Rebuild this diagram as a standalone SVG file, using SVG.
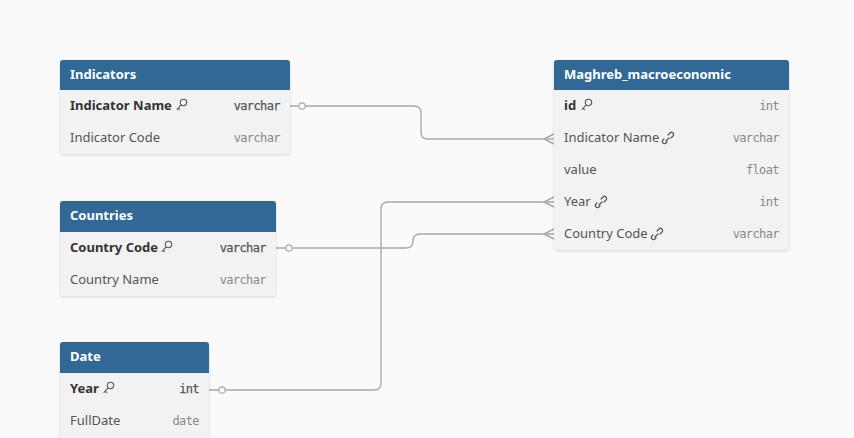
<svg xmlns="http://www.w3.org/2000/svg" width="854" height="438" viewBox="0 0 854 438">
<defs>
<filter id="sh" x="-10%" y="-10%" width="120%" height="130%">
<feDropShadow dx="0" dy="1" stdDeviation="1.5" flood-color="#000" flood-opacity="0.15"/>
</filter>
<g id="key"><circle cx="6.5" cy="-3.5" r="3.2" fill="none" stroke="#555" stroke-width="1.1"/><path d="M4.2,-1.2 L0,3.5 M1.2,2.2 L2.6,3.6" fill="none" stroke="#555" stroke-width="1.1" stroke-linecap="round"/></g>
<g id="link"><path d="M2,2 L5,-1 M4,-4 L6,-6 a2,2 0 0 1 3,3 L7,-1 M0,0 L-1,1 a2,2 0 0 0 3,3 L3,3" fill="none" stroke="#555" stroke-width="1.2" stroke-linecap="round"/></g>
</defs>
<style>
.bg{fill:#fafafa}
.tb{fill:#f2f2f2;filter:url(#sh)}
.hd{fill:#316896}
.ht{font-family:"Noto Sans","Open Sans",sans-serif;font-size:13px;font-weight:bold;fill:#fff}
.pk{font-family:"Noto Sans","Open Sans",sans-serif;font-size:13px;font-weight:bold;fill:#333}
.fd{font-family:"Noto Sans","Open Sans",sans-serif;font-size:13px;fill:#555}
.ty{font-family:"DejaVu Sans Mono","Liberation Mono",monospace;font-size:12px;letter-spacing:-0.6px;fill:#888;text-anchor:end}
.tyb{font-family:"DejaVu Sans Mono","Liberation Mono",monospace;font-size:12px;letter-spacing:-0.6px;fill:#555;text-anchor:end;stroke:#555;stroke-width:0.25}
.cn{fill:none;stroke:#a8a8b0;stroke-width:1.4}
.dot{fill:#fafafa;stroke:#a8a8b0;stroke-width:1.2}
</style>
<rect class="bg" width="854" height="438"/>

<g id="connectors">
<path class="cn" d="M290,106 H414 Q421,106 421,113 V132 Q421,139 428,139 H554"/>
<circle class="dot" cx="302" cy="106" r="3.2"/>
<path class="cn" d="M544,139 L554,134 M544,139 L554,144"/>
<path class="cn" d="M276,248 H406 Q413,248 413,241 Q413,234 420,234 H554"/>
<circle class="dot" cx="289" cy="248" r="3.2"/>
<path class="cn" d="M544,234 L554,229 M544,234 L554,239"/>
<path class="cn" d="M209,390 H374 Q381,390 381,383 V209 Q381,202 388,202 H554"/>
<circle class="dot" cx="222" cy="390" r="3.2"/>
<path class="cn" d="M544,202 L554,197 M544,202 L554,207"/>
</g>

<g id="Indicators">
<rect class="tb" x="60" y="60" width="230" height="94" rx="3"/>
<path class="hd" d="M60,90 V63 Q60,60 63,60 H287 Q290,60 290,63 V90 Z"/>
<text class="ht" x="70" y="79">Indicators</text>
<text class="pk" x="70" y="110">Indicator Name</text>
<use href="#key" x="177" y="106"/>
<text class="tyb" x="280" y="110">varchar</text>
<text class="fd" x="70" y="142">Indicator Code</text>
<text class="ty" x="280" y="142">varchar</text>
</g>

<g id="Maghreb_macroeconomic">
<rect class="tb" x="554" y="60" width="235" height="190" rx="3"/>
<path class="hd" d="M554,90 V63 Q554,60 557,60 H786 Q789,60 789,63 V90 Z"/>
<text class="ht" x="564" y="79">Maghreb_macroeconomic</text>
<text class="pk" x="564" y="110">id</text>
<use href="#key" x="582" y="106"/>
<text class="ty" x="779" y="110">int</text>
<text class="fd" x="564" y="142">Indicator Name</text>
<use href="#link" x="664" y="139"/>
<text class="ty" x="779" y="142">varchar</text>
<text class="fd" x="564" y="174">value</text>
<text class="ty" x="779" y="174">float</text>
<text class="fd" x="564" y="206">Year</text>
<use href="#link" x="597" y="203"/>
<text class="ty" x="779" y="206">int</text>
<text class="fd" x="564" y="238">Country Code</text>
<use href="#link" x="653" y="235"/>
<text class="ty" x="779" y="238">varchar</text>
</g>

<g id="Countries">
<rect class="tb" x="60" y="201" width="216" height="95" rx="3"/>
<path class="hd" d="M60,232 V204 Q60,201 63,201 H273 Q276,201 276,204 V232 Z"/>
<text class="ht" x="70" y="220">Countries</text>
<text class="pk" x="70" y="252">Country Code</text>
<use href="#key" x="162" y="248"/>
<text class="tyb" x="266" y="252">varchar</text>
<text class="fd" x="70" y="284">Country Name</text>
<text class="ty" x="266" y="284">varchar</text>
</g>

<g id="Date">
<rect class="tb" x="60" y="342" width="149" height="100" rx="3"/>
<path class="hd" d="M60,373 V345 Q60,342 63,342 H206 Q209,342 209,345 V373 Z"/>
<text class="ht" x="70" y="361">Date</text>
<text class="pk" x="70" y="393">Year</text>
<use href="#key" x="104" y="389"/>
<text class="tyb" x="199" y="393">int</text>
<text class="fd" x="70" y="425">FullDate</text>
<text class="ty" x="199" y="425">date</text>
</g>
</svg>
